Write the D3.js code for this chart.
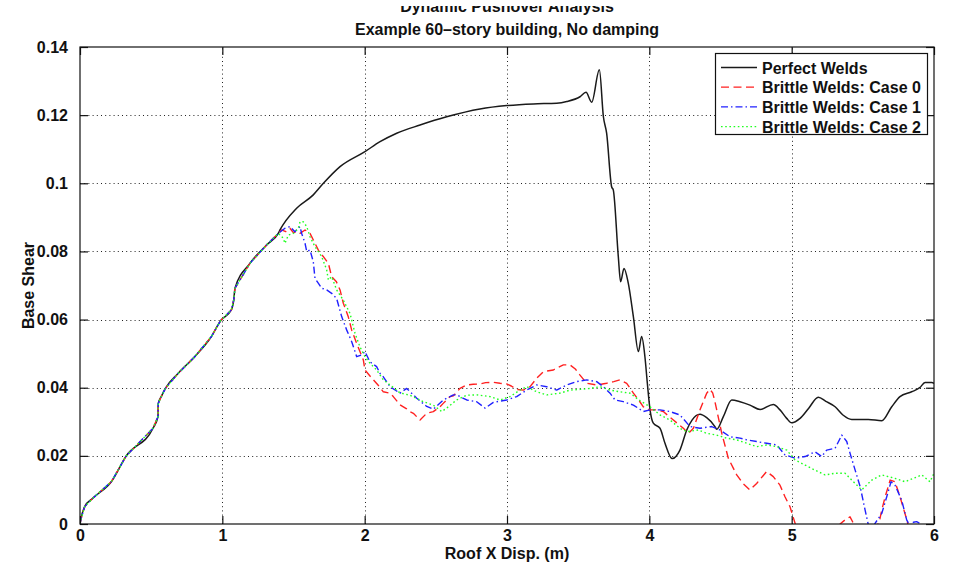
<!DOCTYPE html>
<html>
<head>
<meta charset="utf-8">
<script src="https://cdn.jsdelivr.net/npm/d3@7"></script>
<style>
  html, body { margin: 0; padding: 0; background: #fff; }
  svg text { font-family: "Liberation Sans", Arial, Helvetica, sans-serif; font-weight: bold; fill: #111; }
</style>
</head>
<body>
<svg id="chart" width="954" height="570"></svg>
<script>
// Pushover curves: roof displacement (m) vs base shear.
// Segment shared by every run before the welds start to fracture.
const commonRise = [
  [0,0],[0.005,0.0012],[0.033,0.0051],[0.091,0.0076],[0.22,0.0124],[0.325,0.02],
  [0.513,0.0281],[0.548,0.0315],[0.55,0.0354],[0.571,0.0374],[0.6,0.0398],[0.689,0.0442],
  [0.806,0.0491],[0.923,0.055],[0.988,0.0597],[1.063,0.0628],[1.08,0.0657],[1.089,0.0692],
  [1.194,0.0765],[1.311,0.0819],[1.393,0.0853]
];

const perfectWelds = [
  [1.405,0.0863],[1.522,0.0927],[1.639,0.0966],[1.71,0.1],[1.827,0.1049],[2.002,0.1093],
  [2.108,0.1122],[2.225,0.1147],[2.389,0.1171],[2.576,0.1195],[2.81,0.1218],[2.998,0.1228],
  [3.185,0.1233],[3.349,0.1235],[3.42,0.124],[3.513,0.1254],[3.555,0.1267],[3.595,0.1238],
  [3.649,0.1333],[3.677,0.1196],[3.70,0.1147],[3.735,0.099],[3.747,0.098],[3.782,0.0785],
  [3.798,0.0711],[3.822,0.075],[3.852,0.0707],[3.888,0.0608],[3.923,0.0506],[3.946,0.055],
  [3.969,0.0491],[3.986,0.0413],[4.005,0.0335],[4.028,0.0296],[4.075,0.0281],[4.11,0.0237],
  [4.160,0.0192],[4.215,0.0217],[4.263,0.0276],[4.3,0.0305],[4.356,0.0322],[4.403,0.0312],
  [4.461,0.0286],[4.473,0.0278],[4.52,0.0315],[4.579,0.0364],[4.637,0.0359],[4.707,0.0349],
  [4.778,0.0336],[4.871,0.0351],[4.918,0.0335],[4.965,0.031],[5.0,0.0297],[5.059,0.031],
  [5.12,0.034],[5.187,0.0372],[5.24,0.036],[5.305,0.0344],[5.36,0.032],[5.422,0.0307],
  [5.48,0.0307],[5.539,0.0307],[5.633,0.0303],[5.703,0.0344],[5.761,0.0374],[5.843,0.0388],
  [5.9,0.04],[5.937,0.0415],[5.984,0.0415],[6.0,0.0413]
];

const brittleCase0 = [
  [1.417,0.0863],[1.445,0.0858],[1.475,0.0868],[1.50,0.0855],[1.522,0.0858],[1.546,0.0853],
  [1.581,0.0863],[1.616,0.0853],[1.651,0.0824],[1.686,0.0794],[1.71,0.0785],[1.745,0.0765],
  [1.768,0.0726],[1.80,0.0712],[1.827,0.0687],[1.85,0.0648],[1.885,0.0608],[1.909,0.0569],
  [1.944,0.053],[1.991,0.0481],[2.002,0.0452],[2.03,0.0438],[2.061,0.0423],[2.1,0.0405],
  [2.131,0.0388],[2.178,0.0384],[2.201,0.0374],[2.248,0.035],[2.295,0.0338],[2.318,0.033],
  [2.342,0.0325],[2.389,0.0305],[2.436,0.0325],[2.482,0.033],[2.529,0.0344],[2.552,0.0354],
  [2.6,0.0374],[2.623,0.0376],[2.67,0.0398],[2.717,0.0408],[2.763,0.041],[2.81,0.0411],
  [2.85,0.0415],[2.904,0.0416],[2.951,0.0413],[2.998,0.0411],[3.03,0.0405],[3.068,0.0395],
  [3.115,0.0393],[3.162,0.0403],[3.209,0.0428],[3.255,0.0447],[3.326,0.0452],[3.36,0.046],
  [3.396,0.0467],[3.443,0.0467],[3.48,0.0455],[3.513,0.0437],[3.56,0.0413],[3.63,0.0408],
  [3.7,0.0413],[3.75,0.0418],[3.794,0.0423],[3.841,0.0413],[3.888,0.0384],[3.923,0.0365],
  [3.958,0.0344],[4.005,0.0335],[4.05,0.0335],[4.098,0.033],[4.169,0.0305],[4.239,0.0281],
  [4.274,0.0266],[4.31,0.0281],[4.356,0.0335],[4.403,0.0384],[4.426,0.0395],[4.445,0.0385],
  [4.461,0.0359],[4.509,0.0266],[4.555,0.0193],[4.614,0.0144],[4.66,0.0118],[4.707,0.01],
  [4.754,0.0119],[4.824,0.0154],[4.871,0.0139],[4.918,0.0114],[4.953,0.008],[4.988,0.0051],
  [5.024,0.0002],[5.06,-0.003],[5.3,-0.003],[5.34,0.0],[5.375,0.0012],[5.41,0.0021],
  [5.43,0.0005],[5.47,-0.002],[5.58,-0.003],[5.62,0.0015],[5.633,0.0041],[5.657,0.008],
  [5.692,0.0129],[5.726,0.0124],[5.761,0.008],[5.796,0.0031],[5.83,-0.002],[6.0,-0.004]
];

const brittleCase1 = [
  [1.44,0.0868],[1.475,0.0873],[1.51,0.0858],[1.546,0.0873],[1.557,0.0853],[1.581,0.0824],
  [1.593,0.08],[1.616,0.0804],[1.639,0.077],[1.651,0.0721],[1.674,0.0707],[1.698,0.0692],
  [1.733,0.0687],[1.768,0.0677],[1.803,0.0662],[1.839,0.0608],[1.874,0.0569],[1.909,0.0535],
  [1.944,0.0491],[1.979,0.0496],[2.002,0.0506],[2.037,0.0476],[2.084,0.0462],[2.108,0.0442],
  [2.131,0.0432],[2.178,0.0403],[2.248,0.0384],[2.295,0.0398],[2.366,0.0369],[2.436,0.0345],
  [2.482,0.0337],[2.552,0.0364],[2.623,0.0379],[2.646,0.0379],[2.717,0.0364],[2.787,0.0359],
  [2.846,0.034],[2.904,0.0357],[2.998,0.0364],[3.068,0.0374],[3.138,0.0393],[3.209,0.0408],
  [3.279,0.0403],[3.349,0.0393],[3.42,0.0408],[3.49,0.0418],[3.56,0.0423],[3.63,0.0418],
  [3.677,0.0403],[3.724,0.0384],[3.759,0.0364],[3.817,0.0359],[3.888,0.0349],[3.958,0.033],
  [4.005,0.0335],[4.075,0.0335],[4.146,0.033],[4.215,0.032],[4.286,0.0286],[4.356,0.0281],
  [4.438,0.0286],[4.497,0.0276],[4.567,0.0256],[4.637,0.0252],[4.684,0.0247],[4.754,0.0242],
  [4.824,0.0237],[4.895,0.0232],[4.953,0.0203],[5.024,0.0193],[5.094,0.0198],[5.164,0.0212],
  [5.211,0.0198],[5.246,0.0217],[5.305,0.0222],[5.352,0.0261],[5.387,0.0242],[5.41,0.0208],
  [5.446,0.0158],[5.481,0.011],[5.516,0.0041],[5.539,-0.0003],[5.56,-0.002],[5.586,0.0002],
  [5.633,0.0031],[5.668,0.008],[5.698,0.0124],[5.726,0.0114],[5.773,0.007],[5.808,0.0012],
  [5.831,-0.0005],[5.855,0.0005],[5.878,0.0007],[5.901,0.0002],[5.93,-0.003],[6.0,-0.004]
];

const brittleCase2 = [
  [1.428,0.0839],[1.44,0.0824],[1.464,0.0848],[1.499,0.0853],[1.534,0.0868],[1.546,0.0887],
  [1.569,0.0887],[1.593,0.0873],[1.616,0.0843],[1.651,0.0814],[1.698,0.0785],[1.733,0.0746],
  [1.745,0.0716],[1.768,0.0726],[1.803,0.0687],[1.85,0.0657],[1.897,0.0618],[1.932,0.056],
  [1.967,0.052],[2.002,0.0491],[2.037,0.0472],[2.084,0.0452],[2.131,0.0423],[2.178,0.0408],
  [2.248,0.0385],[2.318,0.0378],[2.412,0.0359],[2.482,0.0349],[2.541,0.033],[2.576,0.034],
  [2.646,0.0364],[2.717,0.0378],[2.787,0.0379],[2.881,0.0374],[2.951,0.0364],[3.021,0.0374],
  [3.091,0.0393],[3.138,0.0403],[3.209,0.0388],[3.279,0.0379],[3.372,0.0384],[3.443,0.0393],
  [3.513,0.0395],[3.583,0.0398],[3.654,0.0403],[3.724,0.0393],[3.794,0.0388],[3.864,0.0384],
  [3.934,0.0362],[4.005,0.0344],[4.075,0.032],[4.146,0.0305],[4.215,0.0281],[4.262,0.0271],
  [4.344,0.0276],[4.403,0.0266],[4.473,0.0261],[4.543,0.0252],[4.614,0.0247],[4.684,0.0237],
  [4.754,0.0227],[4.824,0.0232],[4.895,0.0227],[4.965,0.0217],[5.024,0.0188],[5.094,0.0173],
  [5.164,0.0158],[5.235,0.0144],[5.305,0.0149],[5.375,0.0149],[5.422,0.0129],[5.492,0.01],
  [5.563,0.0129],[5.633,0.0144],[5.726,0.0134],[5.796,0.0124],[5.855,0.0134],[5.914,0.0144],
  [5.972,0.0124],[6.0,0.0149]
];

const seriesNames = ["Perfect Welds", "Brittle Welds: Case 0", "Brittle Welds: Case 1", "Brittle Welds: Case 2"];
const seriesColors = ["#1a1a1a", "#ff2020", "#2020ff", "#20ff20"];
const seriesDashes = [null, "8,4.5", "7,3,1.5,3", "1.6,2.6"];
const seriesData = [perfectWelds, brittleCase0, brittleCase1, brittleCase2];

const xTicks = [0, 1, 2, 3, 4, 5, 6];
const yTicks = [0, 0.02, 0.04, 0.06, 0.08, 0.1, 0.12, 0.14];
const yTickLabels = ["0", "0.02", "0.04", "0.06", "0.08", "0.1", "0.12", "0.14"];

const titleLines = ["Dynamic Pushover Analysis", "Example 60\u2013story building, No damping"];
const xLabel = "Roof X Disp. (m)";
const yLabel = "Base Shear";

// ---- layout ----
const svg = d3.select("#chart");
const plotLeft = 80, plotRight = 934, plotTop = 47, plotBottom = 524;

const x = d3.scaleLinear().domain([0, 6]).range([plotLeft, plotRight]);
const y = d3.scaleLinear().domain([0, 0.14]).range([plotBottom, plotTop]);

// clip regions
const defs = svg.append("defs");
defs.append("clipPath").attr("id", "plotClip")
  .append("rect").attr("x", plotLeft).attr("y", plotTop)
  .attr("width", plotRight - plotLeft).attr("height", plotBottom - plotTop);
defs.append("clipPath").attr("id", "titleClip")
  .append("rect").attr("x", 0).attr("y", 6).attr("width", 954).attr("height", 40);

// dotted grid
const grid = svg.append("g").attr("stroke", "#222").attr("stroke-width", 1).attr("stroke-dasharray", "1,3.2");
grid.selectAll("line.vx").data(xTicks.slice(1, -1)).join("line")
  .attr("x1", d => Math.round(x(d)) + 0.5).attr("x2", d => Math.round(x(d)) + 0.5)
  .attr("y1", plotBottom).attr("y2", plotTop);
grid.selectAll("line.hy").data(yTicks.slice(1, -1)).join("line")
  .attr("y1", d => Math.round(y(d)) + 0.5).attr("y2", d => Math.round(y(d)) + 0.5)
  .attr("x1", plotLeft).attr("x2", plotRight);

// curves: the intact frame is smooth, the fractured runs are step-noisy
const smoothLine = d3.line().x(d => x(d[0])).y(d => y(d[1])).curve(d3.curveMonotoneX);
const rawLine = d3.line().x(d => x(d[0])).y(d => y(d[1]));
const curves = svg.append("g").attr("clip-path", "url(#plotClip)").attr("fill", "none");
seriesData.forEach((pts, i) => {
  curves.append("path")
    .datum(commonRise.concat(pts))
    .attr("d", i === 0 ? smoothLine : rawLine)
    .attr("stroke", seriesColors[i])
    .attr("stroke-width", i === 0 ? 1.5 : 1.4)
    .attr("stroke-linejoin", "round")
    .attr("stroke-dasharray", seriesDashes[i]);
});

// axes with inward ticks on all four sides
const tickLen = 8;
const axisBottom = d3.axisBottom(x).tickValues(xTicks).tickSize(-tickLen).tickPadding(6).tickFormat(d3.format("d"));
const axisTop = d3.axisTop(x).tickValues(xTicks).tickSize(-tickLen).tickFormat("");
const axisLeft = d3.axisLeft(y).tickValues(yTicks).tickSize(-tickLen).tickPadding(tickLen + 4)
  .tickFormat((d, i) => yTickLabels[i]);
const axisRight = d3.axisRight(y).tickValues(yTicks).tickSize(-tickLen).tickFormat("");

function styleAxis(g) {
  g.select(".domain").remove();
  g.selectAll(".tick line").attr("stroke", "#111").attr("stroke-width", 1.2);
  g.selectAll(".tick text").attr("font-size", 16).attr("font-family", null).attr("fill", "#111");
}
svg.append("g").attr("transform", `translate(0,${plotBottom})`).call(axisBottom).call(styleAxis);
svg.append("g").attr("transform", `translate(0,${plotTop})`).call(axisTop).call(styleAxis);
svg.append("g").attr("transform", `translate(${plotLeft},0)`).call(axisLeft).call(styleAxis);
svg.append("g").attr("transform", `translate(${plotRight},0)`).call(axisRight).call(styleAxis);

// frame
svg.append("rect").attr("x", plotLeft).attr("y", plotTop)
  .attr("width", plotRight - plotLeft).attr("height", plotBottom - plotTop)
  .attr("fill", "none").attr("stroke", "#111").attr("stroke-width", 1.2);

// titles and axis labels
const midX = (plotLeft + plotRight) / 2;
svg.append("g").attr("clip-path", "url(#titleClip)")
  .append("text").attr("x", midX).attr("y", 12).attr("text-anchor", "middle")
  .attr("font-size", 16).text(titleLines[0]);
svg.append("text").attr("x", midX).attr("y", 35).attr("text-anchor", "middle")
  .attr("font-size", 16).text(titleLines[1]);
svg.append("text").attr("x", midX).attr("y", 559).attr("text-anchor", "middle")
  .attr("font-size", 16).text(xLabel);
svg.append("text").attr("transform", `translate(34,${(plotTop + plotBottom) / 2}) rotate(-90)`)
  .attr("text-anchor", "middle").attr("font-size", 16).text(yLabel);

// legend
const lg = svg.append("g");
lg.append("rect").attr("x", 715.5).attr("y", 53.5).attr("width", 212).attr("height", 81)
  .attr("fill", "#fff").attr("stroke", "#111").attr("stroke-width", 1.2);
seriesNames.forEach((name, i) => {
  const cy = 67.5 + i * 19.7;
  lg.append("line").attr("x1", 721).attr("x2", 757).attr("y1", cy).attr("y2", cy)
    .attr("stroke", seriesColors[i]).attr("stroke-width", 1.3)
    .attr("stroke-dasharray", seriesDashes[i]);
  lg.append("text").attr("x", 762).attr("y", cy + 6).attr("font-size", 16).text(name);
});
</script>
</body>
</html>
